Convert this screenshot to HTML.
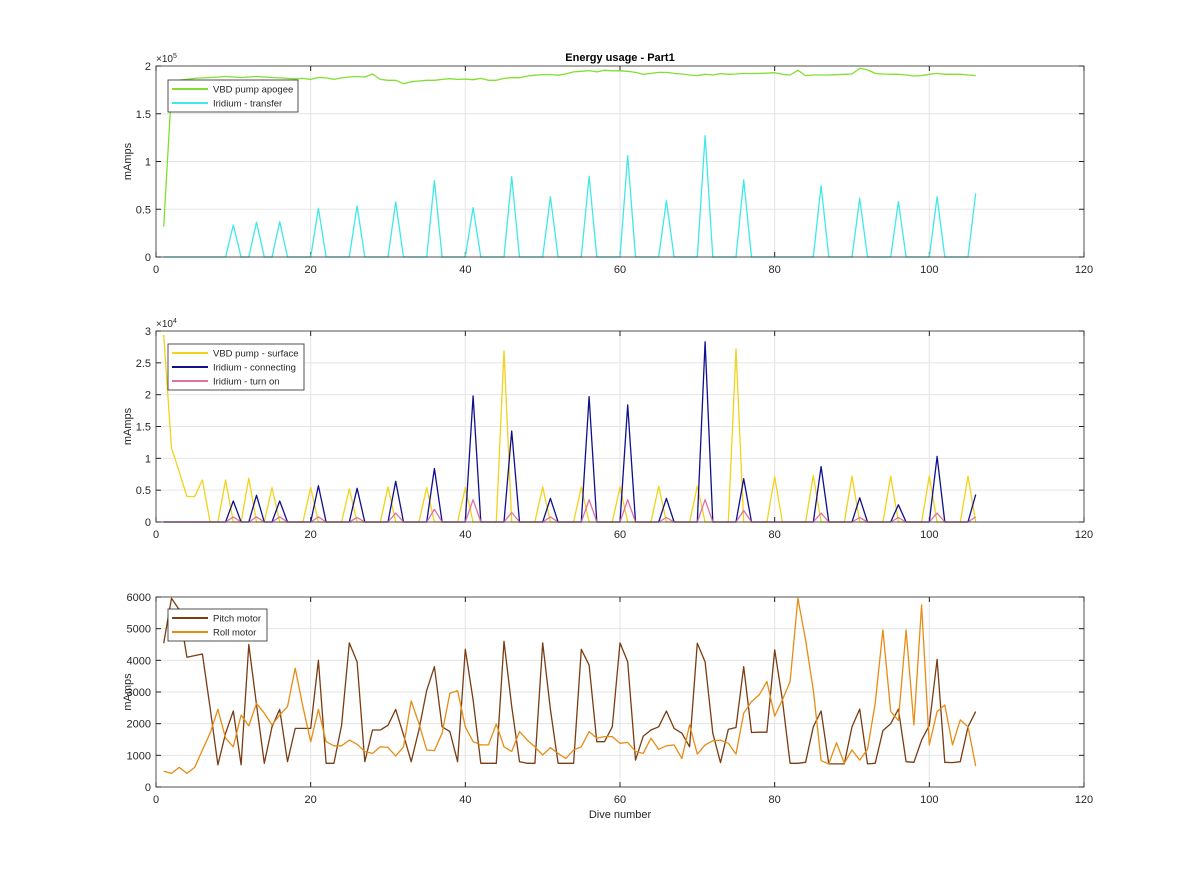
<!DOCTYPE html>
<html><head><meta charset="utf-8"><style>
html,body{margin:0;padding:0;background:#fff;}
svg{display:block;font-family:"Liberation Sans",Arial,sans-serif;}
</style></head><body>
<svg id="fig" width="1200" height="885" viewBox="0 0 1200 885"></svg>
<script>
const dives = []; for (let d = 1; d <= 106; d++) dives.push(d);
const xTicks = [0,20,40,60,80,100,120];
// Panel 1
const apogee = [31800,175000,185000,186000,187000,187500,188000,188500,189000,188500,188000,188500,189000,188500,188000,187500,187000,186500,187000,
186000,188000,187500,186000,187500,188500,189000,188500,191600,186000,185000,185000,181500,183600,184300,185000,185000,186000,186700,186000,186300,
185700,187000,185000,185000,187000,187700,187700,189400,190400,191000,191000,190400,191700,193800,194500,195200,193800,195500,195000,195000,
194500,193300,191300,192300,193300,193300,192300,191600,190600,189900,191300,190600,192000,191300,191600,192300,192000,192300,192600,193000,
191300,190600,195500,189900,190600,190600,190600,190900,191300,191600,197600,195900,192300,191600,191300,191300,190600,189500,189900,191300,
192300,191300,191300,191300,190600,189900];
const transferDives = [10,13,16,21,26,31,36,41,46,51,56,61,66,71,76,86,91,96,101,106];
const transferValues = [33500,36300,37000,51000,53400,57600,80000,51700,84000,63000,84500,106000,59000,127000,80600,74700,61400,58000,63000,66700];
const y1Ticks = [0,0.5,1,1.5,2];
// Panel 2
const surfaceDives = [1,2,3,4,5,6,9,12,15,20,25,30,35,40,45,50,55,60,65,70,75,80,85,90,95,100,105];
const surfaceValues = [29400,11600,7900,4000,4000,6600,6600,6900,5400,5400,5200,5500,5400,5400,26900,5500,5500,5500,5600,5600,27200,7100,7300,7200,7200,7200,7200];
const connDives = [10,13,16,21,26,31,36,41,46,51,56,61,66,71,76,86,91,96,101,106];
const connValues = [3300,4200,3300,5700,5300,6400,8400,19800,14300,3700,19700,18400,3700,28300,6800,8700,3800,2700,10300,4300];
const turnonValues = [800,800,800,800,700,1400,2000,3500,1500,800,3500,3500,700,3500,1800,1400,700,700,1400,800];
const y2Ticks = [0,0.5,1,1.5,2,2.5,3];
// Panel 3
const pitch = [4540,5960,5600,4100,4150,4200,2500,700,1700,2400,700,4500,2600,750,1900,2450,800,1850,1850,1850,
4000,750,750,1950,4550,3950,800,1800,1800,1950,2450,1650,800,1800,3050,3800,1900,1750,800,4350,
2750,750,750,750,4600,2550,800,750,750,4550,2450,750,750,750,4350,3850,1430,1430,1900,4550,
3950,850,1600,1800,1900,2400,1850,1700,1270,4540,3950,1700,770,1820,1880,3800,1720,1730,1730,4330,
2750,750,750,780,1900,2400,730,730,730,1900,2460,730,750,1780,2000,2460,800,780,1480,1950,
4030,780,770,800,1900,2380];
const roll = [500,430,620,430,620,1170,1700,2450,1540,1270,2270,1930,2640,2330,1960,2270,2540,3750,2540,1430,
2450,1430,1300,1300,1480,1350,1120,1060,1270,1250,980,1270,2720,2010,1170,1150,1700,2960,3040,1900,
1430,1330,1330,1990,1270,1120,1750,1480,1270,1010,1240,1060,900,1170,1270,1750,1540,1590,1590,1380,
1410,1120,1060,1540,1190,1300,1330,900,1960,1040,1330,1460,1480,1380,1040,2330,2700,2910,3330,2240,
2750,3330,5960,4640,3060,830,730,1400,750,1170,850,1190,2640,4960,2380,2100,4960,1960,5750,1330,
2380,2590,1330,2120,1900,660];
const y3Ticks = [0,1000,2000,3000,4000,5000,6000];

const NS = "http://www.w3.org/2000/svg";
const svg = document.getElementById('fig');
function mk(tag, attrs, parent) {
  const e = document.createElementNS(NS, tag);
  for (const k in attrs) e.setAttribute(k, attrs[k]);
  (parent || svg).appendChild(e); return e;
}
function sparse(ds, vs) { const a = dives.map(() => 0); ds.forEach((d, i) => a[d - 1] = vs[i]); return a; }

const X0 = 156, X1 = 1084;
const xs = v => X0 + (v - 0) / 120 * (X1 - X0);

function panel(name, top, bot, ymax, ticks, tickScale, tickFmt) {
  const g = mk('g', {});
  
  
  const ys = v => bot - v / ymax * (bot - top);
  mk('rect', {x: X0, y: top, width: X1 - X0, height: bot - top, fill: '#fff'}, g);
  const grid = mk('g', {stroke: '#e5e5e5', 'stroke-width': 1}, g);
  
  
  xTicks.forEach(t => { if (t > 0 && t < 120) mk('line', {x1: xs(t), x2: xs(t), y1: top, y2: bot}, grid); });
  ticks.forEach(t => { const v = t * tickScale; if (v > 0 && v < ymax) mk('line', {x1: X0, x2: X1, y1: ys(v), y2: ys(v)}, grid); });
  const xl = mk('g', {'font-size': 11, fill: '#262626', 'text-anchor': 'middle'}, g);
  
  
  xTicks.forEach(t => {
    mk('line', {x1: xs(t), x2: xs(t), y1: bot, y2: bot - 5, stroke: '#262626'}, g);
    mk('line', {x1: xs(t), x2: xs(t), y1: top, y2: top + 5, stroke: '#262626'}, g);
    const tx = mk('text', {x: xs(t), y: bot + 16}, xl); tx.textContent = t;
  });
  const yl = mk('g', {'font-size': 11, fill: '#262626', 'text-anchor': 'end'}, g);
  
  
  ticks.forEach(t => {
    const v = t * tickScale;
    mk('line', {x1: X0, x2: X0 + 5, y1: ys(v), y2: ys(v), stroke: '#262626'}, g);
    mk('line', {x1: X1, x2: X1 - 5, y1: ys(v), y2: ys(v), stroke: '#262626'}, g);
    const tx = mk('text', {x: X0 - 5, y: ys(v) + 4}, yl); tx.textContent = tickFmt(t);
  });
  const yt = mk('text', {x: 131, y: (top + bot) / 2, 'font-size': 11, fill: '#262626', 'text-anchor': 'middle', transform: `rotate(-90 131 ${(top + bot) / 2})`}, g);
  
  
  yt.textContent = 'mAmps';
  return {g, ys};
}
function series(p, vals, color, name, w) {
  const pts = vals.map((v, i) => xs(dives[i]).toFixed(1) + ',' + p.ys(v).toFixed(1)).join(' ');
  const l = mk('polyline', {points: pts, fill: 'none', stroke: color, 'stroke-width': w || 1.3, 'stroke-linejoin': 'round'}, p.g);
  
  
}
function frame(p, top, bot) {
  mk('rect', {x: X0, y: top, width: X1 - X0, height: bot - top, fill: 'none', stroke: '#262626', 'stroke-width': 0.8}, p.g);
}
function legend(p, name, x, y, w, entries) {
  const g = mk('g', {}, p.g);
  
  
  const h = entries.length * 14 + 4;
  mk('rect', {x: x, y: y, width: w, height: h, fill: '#fff', stroke: '#262626', 'stroke-width': 0.8}, g);
  entries.forEach((e, i) => {
    const yy = y + 9 + i * 14;
    const eg = mk('g', {}, g);
    
    
    mk('line', {x1: x + 4, x2: x + 40, y1: yy, y2: yy, stroke: e[1], 'stroke-width': 2}, eg);
    const t = mk('text', {x: x + 45, y: yy + 3.5, 'font-size': 9.5, fill: '#262626'}, eg);
    t.textContent = e[0];
  });
}

// Panel 1
const p1 = panel('top-panel', 66, 257, 200000, y1Ticks, 100000, t => t);
series(p1, apogee, '#80e030', 'vbd-pump-apogee-line');
series(p1, sparse(transferDives, transferValues), '#40e8e8', 'iridium-transfer-line');
frame(p1, 66, 257);
legend(p1, 'top-legend', 168, 80, 130, [['VBD pump apogee', '#80e030', 'apogee'], ['Iridium - transfer', '#40e8e8', 'transfer']]);
const e1 = mk('text', {x: 156, y: 62, 'font-size': 10, fill: '#262626'});


e1.innerHTML = '×10<tspan dy="-4" font-size="7">5</tspan>';
const title = mk('text', {x: 620, y: 61, 'font-size': 11, 'font-weight': 'bold', fill: '#000', 'text-anchor': 'middle'});


title.textContent = 'Energy usage - Part1';

// Panel 2
const p2 = panel('middle-panel', 331, 522, 30000, y2Ticks, 10000, t => t);
series(p2, sparse(surfaceDives, surfaceValues), '#f2d21a', 'vbd-pump-surface-line');
series(p2, sparse(connDives, connValues), '#10108c', 'iridium-connecting-line');
series(p2, sparse(connDives, turnonValues), '#e070a8', 'iridium-turn-on-line');
frame(p2, 331, 522);
legend(p2, 'middle-legend', 168, 344, 136, [['VBD pump - surface', '#f2d21a', 'surface'], ['Iridium - connecting', '#10108c', 'connecting'], ['Iridium - turn on', '#e070a8', 'turn-on']]);
const e2 = mk('text', {x: 156, y: 327, 'font-size': 10, fill: '#262626'});


e2.innerHTML = '×10<tspan dy="-4" font-size="7">4</tspan>';

// Panel 3
const p3 = panel('bottom-panel', 597, 787, 6000, y3Ticks, 1, t => t);
series(p3, pitch, '#7a3c12', 'pitch-motor-line');
series(p3, roll, '#e88c14', 'roll-motor-line');
frame(p3, 597, 787);
legend(p3, 'bottom-legend', 168, 609, 99, [['Pitch motor', '#7a3c12', 'pitch'], ['Roll motor', '#e88c14', 'roll']]);
const xt = mk('text', {x: 620, y: 818, 'font-size': 11, fill: '#262626', 'text-anchor': 'middle'});


xt.textContent = 'Dive number';
</script>
</body></html>
